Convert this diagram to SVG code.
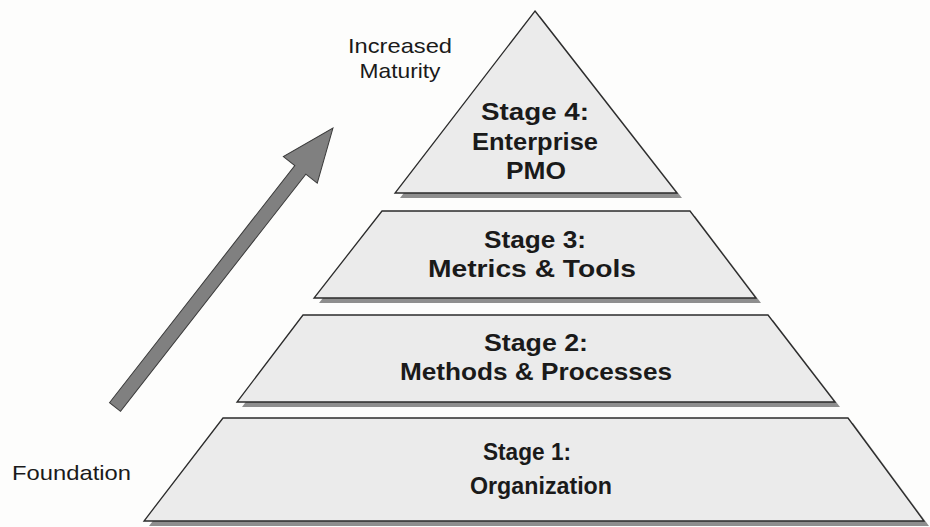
<svg xmlns="http://www.w3.org/2000/svg" width="930" height="527" viewBox="0 0 930 527">
  <style>
    .layer { fill: #ebebeb; stroke: #2b2b2b; stroke-width: 1.3; stroke-linejoin: miter; }
    .shadow { fill: #8e8e8e; }
    .title { font-family: "Liberation Sans", Arial, sans-serif; font-weight: bold; font-size: 24px; fill: #1a1a1a; text-anchor: middle; }
    .note { font-family: "Liberation Sans", Arial, sans-serif; font-size: 21px; fill: #1a1a1a; }
  </style>
  <rect width="930" height="527" fill="#fdfdfc"/>

  <!-- maturity arrow -->
  <g id="connectors">
    <polygon points="0,-7 301,-7 301,-21.5 354,0 301,21.5 301,7 0,7"
             transform="translate(115,407) rotate(-52)"
             fill="#808080" stroke="#3a3a3a" stroke-width="1"/>
  </g>

  <!-- Stage 4 -->
  <g id="stage4">
    <polygon class="shadow" points="540,16 682,198 400,198"/>
    <polygon class="layer" points="535,11 677,193 395,193"/>
    <text class="title" x="535" y="120" textLength="108" lengthAdjust="spacingAndGlyphs">Stage 4:</text>
    <text class="title" x="535" y="150" textLength="126" lengthAdjust="spacingAndGlyphs">Enterprise</text>
    <text class="title" x="536" y="179" textLength="60" lengthAdjust="spacingAndGlyphs">PMO</text>
  </g>

  <!-- Stage 3 -->
  <g id="stage3">
    <polygon class="shadow" points="387,216 695,216 761,303 319,303"/>
    <polygon class="layer" points="382,211 690,211 756,298 314,298"/>
    <text class="title" x="535" y="248" textLength="102" lengthAdjust="spacingAndGlyphs">Stage 3:</text>
    <text class="title" x="532" y="277" textLength="208" lengthAdjust="spacingAndGlyphs">Metrics &amp; Tools</text>
  </g>

  <!-- Stage 2 -->
  <g id="stage2">
    <polygon class="shadow" points="308,320 773,320 840,407 242,407"/>
    <polygon class="layer" points="303,315 768,315 835,402 237,402"/>
    <text class="title" x="536" y="351" textLength="104" lengthAdjust="spacingAndGlyphs">Stage 2:</text>
    <text class="title" x="536" y="380" textLength="272" lengthAdjust="spacingAndGlyphs">Methods &amp; Processes</text>
  </g>

  <!-- Stage 1 -->
  <g id="stage1">
    <polygon class="shadow" points="228,423 853,423 929,526 149,526"/>
    <polygon class="layer" points="223,418 848,418 924,521 144,521"/>
    <text class="title" x="527" y="460" textLength="88" lengthAdjust="spacingAndGlyphs">Stage 1:</text>
    <text class="title" x="541" y="494" textLength="142" lengthAdjust="spacingAndGlyphs">Organization</text>
  </g>

  <!-- axis labels -->
  <g id="labels">
    <text class="note" x="400" y="53" text-anchor="middle" textLength="104" lengthAdjust="spacingAndGlyphs">Increased</text>
    <text class="note" x="400" y="78" text-anchor="middle" textLength="81" lengthAdjust="spacingAndGlyphs">Maturity</text>
    <text class="note" x="12" y="480" textLength="119" lengthAdjust="spacingAndGlyphs">Foundation</text>
  </g>
</svg>
